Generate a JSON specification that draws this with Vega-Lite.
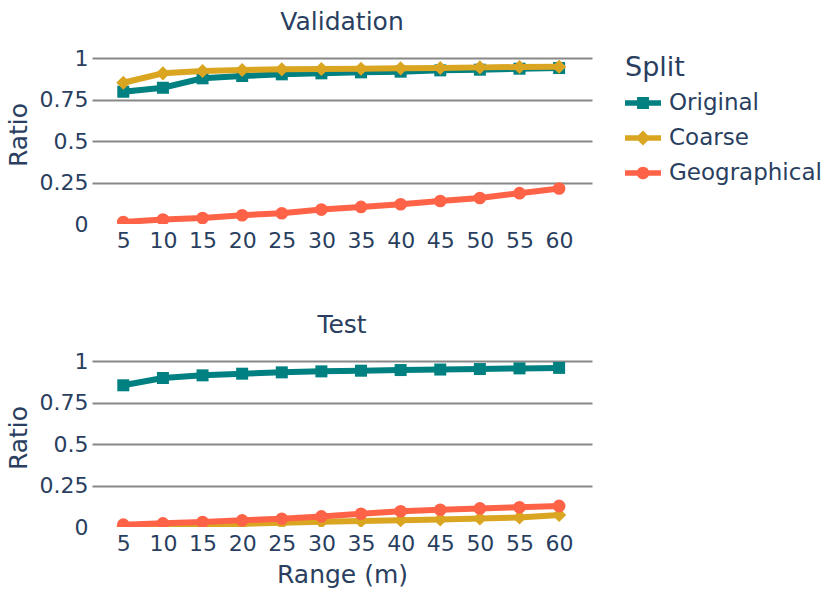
{
  "$schema": "https://vega.github.io/schema/vega-lite/v6.json",
  "background": "white",
  "padding": {"left": 6, "top": 10, "right": 5, "bottom": 5},
  "spacing": 62,
  "config": {
    "font": "DejaVu Sans",
    "view": {"stroke": null},
    "axis": {
      "labelColor": "#2a3f5f",
      "titleColor": "#2a3f5f",
      "labelFontSize": 22,
      "titleFontSize": 25,
      "titleFontWeight": "normal",
      "ticks": false,
      "domain": false
    },
    "title": {"fontSize": 25, "fontWeight": "normal", "color": "#2a3f5f", "offset": 10},
    "legend": {
      "titleColor": "#2a3f5f",
      "labelColor": "#2a3f5f",
      "titleFontSize": 27,
      "titleFontWeight": "normal",
      "labelFontSize": 23,
      "offset": 23,
      "padding": 10,
      "rowPadding": 5,
      "labelOffset": 8,
      "titlePadding": 3,
      "symbolSize": 1296,
      "symbolStrokeWidth": 0,
      "symbolOpacity": 1
    }
  },
  "datasets": {
    "ratios": [
      {"Set": "Validation", "Split": "Original", "Range": 5, "Ratio": 0.798},
      {"Set": "Validation", "Split": "Original", "Range": 10, "Ratio": 0.822},
      {"Set": "Validation", "Split": "Original", "Range": 15, "Ratio": 0.879},
      {"Set": "Validation", "Split": "Original", "Range": 20, "Ratio": 0.893},
      {"Set": "Validation", "Split": "Original", "Range": 25, "Ratio": 0.903},
      {"Set": "Validation", "Split": "Original", "Range": 30, "Ratio": 0.909},
      {"Set": "Validation", "Split": "Original", "Range": 35, "Ratio": 0.915},
      {"Set": "Validation", "Split": "Original", "Range": 40, "Ratio": 0.919},
      {"Set": "Validation", "Split": "Original", "Range": 45, "Ratio": 0.927},
      {"Set": "Validation", "Split": "Original", "Range": 50, "Ratio": 0.931},
      {"Set": "Validation", "Split": "Original", "Range": 55, "Ratio": 0.937},
      {"Set": "Validation", "Split": "Original", "Range": 60, "Ratio": 0.941},
      {"Set": "Validation", "Split": "Coarse", "Range": 5, "Ratio": 0.852},
      {"Set": "Validation", "Split": "Coarse", "Range": 10, "Ratio": 0.909},
      {"Set": "Validation", "Split": "Coarse", "Range": 15, "Ratio": 0.923},
      {"Set": "Validation", "Split": "Coarse", "Range": 20, "Ratio": 0.929},
      {"Set": "Validation", "Split": "Coarse", "Range": 25, "Ratio": 0.933},
      {"Set": "Validation", "Split": "Coarse", "Range": 30, "Ratio": 0.935},
      {"Set": "Validation", "Split": "Coarse", "Range": 35, "Ratio": 0.937},
      {"Set": "Validation", "Split": "Coarse", "Range": 40, "Ratio": 0.939},
      {"Set": "Validation", "Split": "Coarse", "Range": 45, "Ratio": 0.941},
      {"Set": "Validation", "Split": "Coarse", "Range": 50, "Ratio": 0.945},
      {"Set": "Validation", "Split": "Coarse", "Range": 55, "Ratio": 0.947},
      {"Set": "Validation", "Split": "Coarse", "Range": 60, "Ratio": 0.949},
      {"Set": "Validation", "Split": "Geographical", "Range": 5, "Ratio": 0.012},
      {"Set": "Validation", "Split": "Geographical", "Range": 10, "Ratio": 0.027},
      {"Set": "Validation", "Split": "Geographical", "Range": 15, "Ratio": 0.036},
      {"Set": "Validation", "Split": "Geographical", "Range": 20, "Ratio": 0.053},
      {"Set": "Validation", "Split": "Geographical", "Range": 25, "Ratio": 0.065},
      {"Set": "Validation", "Split": "Geographical", "Range": 30, "Ratio": 0.087},
      {"Set": "Validation", "Split": "Geographical", "Range": 35, "Ratio": 0.103},
      {"Set": "Validation", "Split": "Geographical", "Range": 40, "Ratio": 0.119},
      {"Set": "Validation", "Split": "Geographical", "Range": 45, "Ratio": 0.139},
      {"Set": "Validation", "Split": "Geographical", "Range": 50, "Ratio": 0.157},
      {"Set": "Validation", "Split": "Geographical", "Range": 55, "Ratio": 0.186},
      {"Set": "Validation", "Split": "Geographical", "Range": 60, "Ratio": 0.214},
      {"Set": "Test", "Split": "Original", "Range": 5, "Ratio": 0.855},
      {"Set": "Test", "Split": "Original", "Range": 10, "Ratio": 0.899},
      {"Set": "Test", "Split": "Original", "Range": 15, "Ratio": 0.915},
      {"Set": "Test", "Split": "Original", "Range": 20, "Ratio": 0.925},
      {"Set": "Test", "Split": "Original", "Range": 25, "Ratio": 0.933},
      {"Set": "Test", "Split": "Original", "Range": 30, "Ratio": 0.939},
      {"Set": "Test", "Split": "Original", "Range": 35, "Ratio": 0.943},
      {"Set": "Test", "Split": "Original", "Range": 40, "Ratio": 0.947},
      {"Set": "Test", "Split": "Original", "Range": 45, "Ratio": 0.95},
      {"Set": "Test", "Split": "Original", "Range": 50, "Ratio": 0.953},
      {"Set": "Test", "Split": "Original", "Range": 55, "Ratio": 0.957},
      {"Set": "Test", "Split": "Original", "Range": 60, "Ratio": 0.96},
      {"Set": "Test", "Split": "Coarse", "Range": 5, "Ratio": 0.003},
      {"Set": "Test", "Split": "Coarse", "Range": 10, "Ratio": 0.008},
      {"Set": "Test", "Split": "Coarse", "Range": 15, "Ratio": 0.013},
      {"Set": "Test", "Split": "Coarse", "Range": 20, "Ratio": 0.019},
      {"Set": "Test", "Split": "Coarse", "Range": 25, "Ratio": 0.025},
      {"Set": "Test", "Split": "Coarse", "Range": 30, "Ratio": 0.031},
      {"Set": "Test", "Split": "Coarse", "Range": 35, "Ratio": 0.036},
      {"Set": "Test", "Split": "Coarse", "Range": 40, "Ratio": 0.041},
      {"Set": "Test", "Split": "Coarse", "Range": 45, "Ratio": 0.046},
      {"Set": "Test", "Split": "Coarse", "Range": 50, "Ratio": 0.051},
      {"Set": "Test", "Split": "Coarse", "Range": 55, "Ratio": 0.058},
      {"Set": "Test", "Split": "Coarse", "Range": 60, "Ratio": 0.073},
      {"Set": "Test", "Split": "Geographical", "Range": 5, "Ratio": 0.014},
      {"Set": "Test", "Split": "Geographical", "Range": 10, "Ratio": 0.022},
      {"Set": "Test", "Split": "Geographical", "Range": 15, "Ratio": 0.03},
      {"Set": "Test", "Split": "Geographical", "Range": 20, "Ratio": 0.04},
      {"Set": "Test", "Split": "Geographical", "Range": 25, "Ratio": 0.05},
      {"Set": "Test", "Split": "Geographical", "Range": 30, "Ratio": 0.064},
      {"Set": "Test", "Split": "Geographical", "Range": 35, "Ratio": 0.08},
      {"Set": "Test", "Split": "Geographical", "Range": 40, "Ratio": 0.095},
      {"Set": "Test", "Split": "Geographical", "Range": 45, "Ratio": 0.104},
      {"Set": "Test", "Split": "Geographical", "Range": 50, "Ratio": 0.112},
      {"Set": "Test", "Split": "Geographical", "Range": 55, "Ratio": 0.119},
      {"Set": "Test", "Split": "Geographical", "Range": 60, "Ratio": 0.127}
    ]
  },
  "vconcat": [
    {
      "title": "Validation",
      "width": 500,
      "height": 179,
      "data": {"name": "ratios"},
      "transform": [{"filter": "datum.Set === 'Validation'"}],
      "encoding": {
        "x": {
          "field": "Range",
          "type": "quantitative",
          "scale": {"domain": [1.05, 64.15], "nice": false, "zero": false},
          "axis": {"values": [5, 10, 15, 20, 25, 30, 35, 40, 45, 50, 55, 60], "grid": false, "title": null, "labelPadding": 6}
        },
        "y": {
          "field": "Ratio",
          "type": "quantitative",
          "scale": {"domain": [0, 1.08], "nice": false},
          "axis": {
            "values": [0, 0.25, 0.5, 0.75, 1],
            "labelExpr": "'' + datum.value",
            "title": "Ratio",
            "labelPadding": 4,
            "titlePadding": 8,
            "gridWidth": 2,
            "gridColor": {"condition": {"test": "datum.value === 0", "value": "transparent"}, "value": "#888888"}
          }
        },
        "color": {
          "field": "Split",
          "type": "nominal",
          "scale": {"domain": ["Original", "Coarse", "Geographical"], "range": ["#008080", "#DAA520", "#FF6347"]},
          "legend": {
            "title": "Split",
            "encode": {
              "symbols": {
                "update": {
                  "shape": {"signal": "datum.value === 'Original' ? 'M-1,-0.15H1V0.15H-1Z M-0.33,-0.33H0.33V0.33H-0.33Z' : datum.value === 'Coarse' ? 'M-1,-0.15H1V0.15H-1Z M0,-0.42L0.42,0L0,0.42L-0.42,0Z' : 'M-1,-0.15H1V0.15H-1Z M-0.35,0A0.35,0.35 0 1,1 0.35,0A0.35,0.35 0 1,1 -0.35,0Z'"},
                  "strokeWidth": {"value": 0},
                  "opacity": {"value": 1}
                }
              }
            }
          }
        }
      },
      "layer": [
        {"transform": [{"filter": "datum.Split === 'Original'"}], "mark": {"type": "line", "strokeWidth": 6, "clip": true}},
        {"transform": [{"filter": "datum.Split === 'Original'"}], "mark": {"type": "point", "shape": "square", "size": 144, "filled": true, "opacity": 1, "clip": true}},
        {"transform": [{"filter": "datum.Split === 'Coarse'"}], "mark": {"type": "line", "strokeWidth": 6, "clip": true}},
        {"transform": [{"filter": "datum.Split === 'Coarse'"}], "mark": {"type": "point", "shape": "diamond", "size": 200, "filled": true, "opacity": 1, "clip": true}},
        {"transform": [{"filter": "datum.Split === 'Geographical'"}], "mark": {"type": "line", "strokeWidth": 6, "clip": true}},
        {"transform": [{"filter": "datum.Split === 'Geographical'"}], "mark": {"type": "point", "shape": "circle", "size": 160, "filled": true, "opacity": 1, "clip": true}}
      ]
    },
    {
      "title": "Test",
      "width": 500,
      "height": 179,
      "data": {"name": "ratios"},
      "transform": [{"filter": "datum.Set === 'Test'"}],
      "encoding": {
        "x": {
          "field": "Range",
          "type": "quantitative",
          "scale": {"domain": [1.05, 64.15], "nice": false, "zero": false},
          "axis": {"values": [5, 10, 15, 20, 25, 30, 35, 40, 45, 50, 55, 60], "grid": false, "title": "Range (m)", "labelPadding": 6, "titlePadding": 8}
        },
        "y": {
          "field": "Ratio",
          "type": "quantitative",
          "scale": {"domain": [0, 1.08], "nice": false},
          "axis": {
            "values": [0, 0.25, 0.5, 0.75, 1],
            "labelExpr": "'' + datum.value",
            "title": "Ratio",
            "labelPadding": 4,
            "titlePadding": 8,
            "gridWidth": 2,
            "gridColor": {"condition": {"test": "datum.value === 0", "value": "transparent"}, "value": "#888888"}
          }
        },
        "color": {
          "field": "Split",
          "type": "nominal",
          "scale": {"domain": ["Original", "Coarse", "Geographical"], "range": ["#008080", "#DAA520", "#FF6347"]},
          "legend": {
            "title": "Split",
            "encode": {
              "symbols": {
                "update": {
                  "shape": {"signal": "datum.value === 'Original' ? 'M-1,-0.15H1V0.15H-1Z M-0.33,-0.33H0.33V0.33H-0.33Z' : datum.value === 'Coarse' ? 'M-1,-0.15H1V0.15H-1Z M0,-0.42L0.42,0L0,0.42L-0.42,0Z' : 'M-1,-0.15H1V0.15H-1Z M-0.35,0A0.35,0.35 0 1,1 0.35,0A0.35,0.35 0 1,1 -0.35,0Z'"},
                  "strokeWidth": {"value": 0},
                  "opacity": {"value": 1}
                }
              }
            }
          }
        }
      },
      "layer": [
        {"transform": [{"filter": "datum.Split === 'Original'"}], "mark": {"type": "line", "strokeWidth": 6, "clip": true}},
        {"transform": [{"filter": "datum.Split === 'Original'"}], "mark": {"type": "point", "shape": "square", "size": 144, "filled": true, "opacity": 1, "clip": true}},
        {"transform": [{"filter": "datum.Split === 'Coarse'"}], "mark": {"type": "line", "strokeWidth": 6, "clip": true}},
        {"transform": [{"filter": "datum.Split === 'Coarse'"}], "mark": {"type": "point", "shape": "diamond", "size": 200, "filled": true, "opacity": 1, "clip": true}},
        {"transform": [{"filter": "datum.Split === 'Geographical'"}], "mark": {"type": "line", "strokeWidth": 6, "clip": true}},
        {"transform": [{"filter": "datum.Split === 'Geographical'"}], "mark": {"type": "point", "shape": "circle", "size": 160, "filled": true, "opacity": 1, "clip": true}}
      ]
    }
  ]
}
